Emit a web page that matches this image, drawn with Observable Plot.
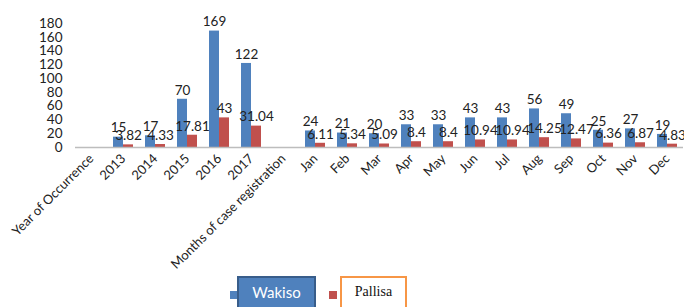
<!DOCTYPE html>
<html>
<head>
<meta charset="utf-8">
<script src="https://cdn.jsdelivr.net/npm/d3@7"></script>
<script src="https://cdn.jsdelivr.net/npm/@observablehq/plot@0.6"></script>
<style>
  html, body { margin: 0; padding: 0; background: #fff; }
  #wrap { width: 684px; position: relative; }
  #legend { position: relative; width: 684px; height: 31px; overflow: hidden; }
  .sw { position: absolute; }
  .box { position: absolute; box-sizing: border-box; display: flex; align-items: center; justify-content: center; }
</style>
</head>
<body>
<div id="wrap"></div>
<script>
const categories = ["Year of Occurrence", "2013", "2014", "2015", "2016", "2017",
  "Months of case registration", "Jan", "Feb", "Mar", "Apr", "May", "Jun", "Jul",
  "Aug", "Sep", "Oct", "Nov", "Dec"];
const periods = ["2013", "2014", "2015", "2016", "2017", "Jan", "Feb", "Mar", "Apr",
  "May", "Jun", "Jul", "Aug", "Sep", "Oct", "Nov", "Dec"];
const seriesNames = ["Wakiso", "Pallisa"];
const wakiso = [15, 17, 70, 169, 122, 24, 21, 20, 33, 33, 43, 43, 56, 49, 25, 27, 19];
const pallisa = [3.82, 4.33, 17.81, 43, 31.04, 6.11, 5.34, 5.09, 8.4, 8.4, 10.94, 10.94, 14.25, 12.47, 6.36, 6.87, 4.83];
const yTicks = [0, 20, 40, 60, 80, 100, 120, 140, 160, 180];
const colors = ["#4f81bd", "#c0504d"];

const wData = periods.map((p, i) => ({cat: p, series: seriesNames[0], value: wakiso[i]}));
const pData = periods.map((p, i) => ({cat: p, series: seriesNames[1], value: pallisa[i]}));

const font = "Lato, 'Open Sans', sans-serif";

const chart = Plot.plot({
  width: 684,
  height: 276,
  marginLeft: 75,
  marginRight: 1,
  marginTop: 23,
  marginBottom: 129,
  style: {fontFamily: font, fontSize: "13px", color: "#222", background: "#fff"},
  x: {domain: categories, padding: 0, axis: null},
  y: {domain: [0, 180], axis: null},
  color: {domain: seriesNames, range: colors},
  marks: [
    Plot.axisY({ticks: yTicks, tickSize: 0, tickPadding: 13, line: true, stroke: "#bdbdbd", fill: "#222", fontSize: 13.5, label: null}),
    Plot.axisX({anchor: "bottom", tickRotate: -45, tickSize: 0, tickPadding: 4, dy: 5, dx: 0, label: null, fontSize: 13, fill: "#222"}),
    Plot.barY(wData, {x: "cat", y: "value", fill: "series", insetLeft: 6, insetRight: 16}),
    Plot.barY(pData, {x: "cat", y: "value", fill: "series", insetLeft: 16, insetRight: 6}),
    Plot.ruleY([0], {stroke: "#bdbdbd", strokeWidth: 1.5}),
    Plot.text(wData, {x: "cat", y: "value", text: d => String(d.value), dx: -5, dy: -9, fontSize: 13.5, fill: "#222"}),
    Plot.text(pData, {x: "cat", y: "value", text: d => String(d.value), dx: 5, dy: -9, fontSize: 13.5, fill: "#222"})
  ]
});

const wrap = document.getElementById("wrap");
wrap.appendChild(chart);

const legend = document.createElement("div");
legend.id = "legend";
legend.innerHTML = `
  <div class="sw" style="left:230px;top:15px;width:8px;height:8px;background:${colors[0]}"></div>
  <div class="box" style="left:237px;top:0;width:79px;height:36px;background:${colors[0]};border:2px solid #385d8a;color:#fff;font-family:${font};font-size:15px;padding-bottom:4px">${seriesNames[0]}</div>
  <div class="sw" style="left:329px;top:15px;width:8px;height:8px;background:${colors[1]}"></div>
  <div class="box" style="left:340px;top:0;width:67px;height:36px;background:#fff;border:2px solid #f79646;color:#111;font-family:'Liberation Serif',serif;font-size:14px;padding-bottom:5px">${seriesNames[1]}</div>
`;
wrap.appendChild(legend);
</script>
</body>
</html>
